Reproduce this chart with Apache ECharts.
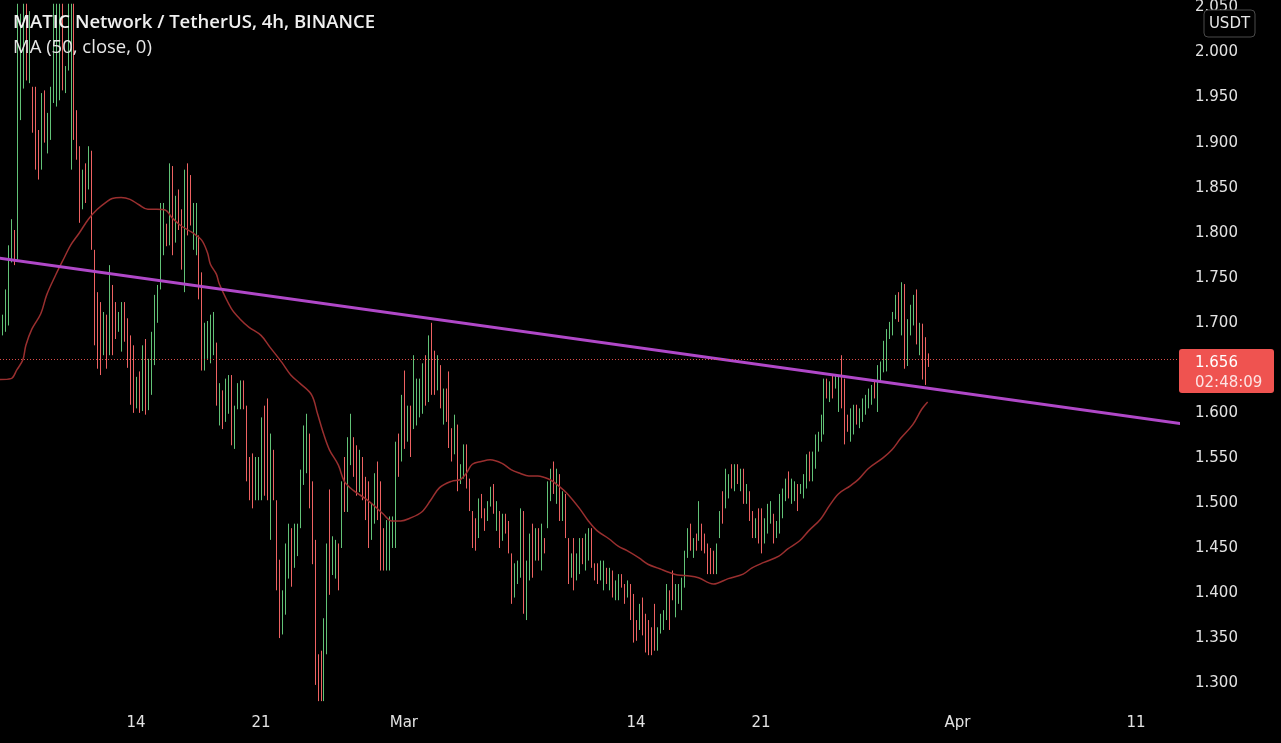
<!DOCTYPE html>
<html><head><meta charset="utf-8">
<style>html,body{margin:0;padding:0;background:#000;}#c{width:1281px;height:743px;}</style>
<script src="https://cdn.jsdelivr.net/npm/echarts@6/dist/echarts.min.js"></script>
</head><body><div id="c"></div>
<script>
const titleText = 'MATIC Network / TetherUS, 4h, BINANCE';
const maText = 'MA (50, close, 0)';
const currencyText = 'USDT';
const firstBarTime = Date.UTC(2022, 1, 6, 8);
const barMs = 4 * 3600 * 1000;
// [open, high, low, close] per 4h bar
const bars = [
[1.725,1.737,1.668,1.680],[1.688,1.709,1.686,1.704],[1.698,1.737,1.690,1.730],[1.712,1.786,1.697,1.772],
[1.772,1.815,1.767,1.805],[1.800,1.803,1.764,1.772],[1.775,2.060,1.770,1.990],[1.945,2.043,1.925,2.030],
[1.975,2.070,1.960,2.050],[2.050,2.070,1.969,1.985],[1.975,2.046,1.966,2.030],[1.958,1.962,1.911,1.920],
[1.950,1.962,1.870,1.885],[1.905,1.914,1.859,1.868],[1.878,1.955,1.870,1.940],[1.950,1.958,1.900,1.910],
[1.895,1.933,1.888,1.925],[1.910,1.962,1.903,1.955],[1.950,2.060,1.944,2.040],[1.950,2.070,1.940,2.050],
[1.960,2.080,1.947,2.060],[2.050,2.070,1.958,1.968],[1.960,1.985,1.955,1.980],[1.985,2.060,1.980,2.045],
[1.890,2.070,1.870,2.040],[2.040,2.060,1.903,1.915],[1.925,1.936,1.881,1.890],[1.888,1.896,1.811,1.820],
[1.830,1.870,1.826,1.862],[1.870,1.877,1.833,1.840],[1.852,1.896,1.848,1.888],[1.885,1.891,1.781,1.790],
[1.778,1.781,1.675,1.690],[1.720,1.734,1.649,1.660],[1.715,1.723,1.642,1.655],[1.668,1.712,1.664,1.705],
[1.700,1.709,1.649,1.658],[1.670,1.764,1.664,1.750],[1.735,1.742,1.664,1.675],[1.718,1.723,1.682,1.688],
[1.692,1.712,1.690,1.708],[1.675,1.723,1.668,1.715],[1.718,1.723,1.679,1.685],[1.695,1.705,1.650,1.660],
[1.678,1.686,1.609,1.618],[1.662,1.675,1.600,1.610],[1.612,1.640,1.605,1.632],[1.640,1.646,1.600,1.606],
[1.608,1.675,1.602,1.665],[1.672,1.682,1.598,1.605],[1.608,1.660,1.603,1.652],[1.648,1.690,1.620,1.684],
[1.680,1.731,1.653,1.725],[1.720,1.742,1.700,1.738],[1.740,1.833,1.737,1.815],[1.805,1.833,1.775,1.825],
[1.808,1.810,1.785,1.790],[1.790,1.877,1.786,1.860],[1.860,1.874,1.775,1.790],[1.792,1.841,1.789,1.835],
[1.838,1.848,1.803,1.810],[1.815,1.826,1.759,1.768],[1.765,1.870,1.734,1.858],[1.860,1.877,1.797,1.805],
[1.852,1.864,1.808,1.815],[1.790,1.833,1.781,1.828],[1.790,1.833,1.775,1.826],[1.792,1.797,1.726,1.735],
[1.742,1.756,1.647,1.660],[1.655,1.700,1.647,1.690],[1.668,1.702,1.660,1.698],[1.662,1.709,1.655,1.700],
[1.672,1.712,1.664,1.708],[1.670,1.678,1.608,1.615],[1.592,1.633,1.586,1.625],[1.620,1.625,1.582,1.590],
[1.595,1.638,1.590,1.632],[1.605,1.642,1.599,1.638],[1.635,1.642,1.564,1.572],[1.568,1.608,1.560,1.602],
[1.608,1.633,1.604,1.628],[1.610,1.636,1.604,1.630],[1.630,1.636,1.604,1.610],[1.600,1.608,1.524,1.532],
[1.545,1.551,1.503,1.510],[1.548,1.555,1.494,1.502],[1.508,1.551,1.503,1.545],[1.510,1.551,1.503,1.546],
[1.510,1.595,1.503,1.588],[1.598,1.608,1.508,1.515],[1.605,1.616,1.503,1.512],[1.470,1.577,1.459,1.565],
[1.552,1.559,1.503,1.510],[1.498,1.503,1.403,1.412],[1.430,1.437,1.350,1.358],[1.360,1.403,1.354,1.398],
[1.385,1.455,1.376,1.448],[1.422,1.477,1.416,1.470],[1.465,1.472,1.407,1.415],[1.432,1.477,1.428,1.470],
[1.445,1.477,1.441,1.472],[1.475,1.537,1.472,1.530],[1.525,1.586,1.520,1.578],[1.540,1.599,1.533,1.592],
[1.570,1.577,1.494,1.500],[1.515,1.524,1.432,1.440],[1.450,1.459,1.298,1.310],[1.325,1.332,1.280,1.290],
[1.330,1.336,1.280,1.288],[1.285,1.372,1.280,1.365],[1.340,1.455,1.332,1.445],[1.505,1.515,1.398,1.405],
[1.425,1.463,1.420,1.458],[1.420,1.459,1.416,1.452],[1.450,1.455,1.403,1.410],[1.455,1.524,1.450,1.518],
[1.545,1.551,1.490,1.495],[1.495,1.573,1.490,1.565],[1.548,1.599,1.542,1.592],[1.568,1.573,1.529,1.535],
[1.558,1.564,1.508,1.515],[1.518,1.559,1.512,1.552],[1.545,1.551,1.503,1.508],[1.522,1.529,1.481,1.488],
[1.515,1.524,1.450,1.458],[1.462,1.499,1.459,1.492],[1.482,1.533,1.477,1.528],[1.538,1.546,1.481,1.488],
[1.515,1.524,1.425,1.432],[1.466,1.472,1.425,1.430],[1.430,1.481,1.425,1.475],[1.432,1.485,1.425,1.478],
[1.455,1.485,1.450,1.480],[1.455,1.568,1.450,1.560],[1.570,1.577,1.529,1.535],[1.552,1.620,1.546,1.612],
[1.638,1.647,1.560,1.568],[1.572,1.608,1.568,1.602],[1.600,1.608,1.551,1.558],[1.588,1.664,1.582,1.655],
[1.592,1.638,1.586,1.632],[1.600,1.638,1.595,1.634],[1.605,1.655,1.599,1.650],[1.658,1.664,1.608,1.615],
[1.618,1.686,1.612,1.680],[1.690,1.700,1.620,1.628],[1.662,1.669,1.620,1.626],[1.630,1.664,1.625,1.658],
[1.648,1.653,1.605,1.612],[1.592,1.627,1.587,1.622],[1.622,1.627,1.590,1.595],[1.638,1.646,1.561,1.568],
[1.578,1.583,1.546,1.552],[1.558,1.598,1.554,1.592],[1.580,1.587,1.513,1.520],[1.524,1.543,1.521,1.540],
[1.530,1.565,1.527,1.560],[1.560,1.565,1.516,1.522],[1.522,1.527,1.491,1.496],[1.488,1.491,1.450,1.455],
[1.478,1.483,1.447,1.452],[1.465,1.505,1.461,1.500],[1.506,1.510,1.483,1.488],[1.490,1.494,1.469,1.474],
[1.482,1.502,1.480,1.498],[1.498,1.518,1.496,1.514],[1.516,1.521,1.488,1.492],[1.472,1.502,1.469,1.498],
[1.486,1.491,1.450,1.455],[1.460,1.488,1.458,1.484],[1.484,1.488,1.466,1.470],[1.475,1.480,1.444,1.448],
[1.440,1.444,1.388,1.394],[1.398,1.433,1.395,1.428],[1.414,1.436,1.410,1.432],[1.422,1.494,1.417,1.488],
[1.485,1.491,1.377,1.385],[1.376,1.436,1.370,1.430],[1.420,1.466,1.414,1.460],[1.470,1.477,1.417,1.424],
[1.440,1.472,1.436,1.466],[1.468,1.472,1.436,1.440],[1.430,1.477,1.425,1.470],[1.458,1.461,1.444,1.448],
[1.476,1.524,1.472,1.518],[1.506,1.538,1.502,1.534],[1.540,1.546,1.510,1.515],[1.504,1.538,1.499,1.532],
[1.526,1.532,1.480,1.486],[1.484,1.513,1.480,1.508],[1.504,1.510,1.461,1.466],[1.455,1.461,1.410,1.416],
[1.420,1.444,1.417,1.440],[1.455,1.461,1.403,1.408],[1.418,1.444,1.414,1.440],[1.425,1.461,1.421,1.456],
[1.456,1.461,1.432,1.436],[1.430,1.466,1.425,1.460],[1.440,1.472,1.436,1.468],[1.466,1.472,1.428,1.432],
[1.430,1.433,1.414,1.417],[1.428,1.433,1.410,1.414],[1.417,1.436,1.414,1.432],[1.407,1.436,1.403,1.432],
[1.425,1.428,1.410,1.413],[1.406,1.428,1.403,1.424],[1.420,1.425,1.395,1.398],[1.395,1.414,1.392,1.410],
[1.396,1.421,1.392,1.417],[1.418,1.421,1.406,1.409],[1.407,1.410,1.388,1.391],[1.398,1.414,1.395,1.411],
[1.406,1.410,1.370,1.374],[1.392,1.399,1.345,1.350],[1.366,1.370,1.347,1.350],[1.362,1.388,1.359,1.384],
[1.390,1.395,1.353,1.357],[1.372,1.377,1.334,1.338],[1.365,1.370,1.331,1.335],[1.358,1.362,1.331,1.335],
[1.382,1.388,1.336,1.340],[1.339,1.362,1.336,1.358],[1.358,1.377,1.355,1.373],[1.362,1.381,1.359,1.377],
[1.374,1.410,1.370,1.405],[1.398,1.403,1.359,1.363],[1.420,1.425,1.392,1.396],[1.377,1.410,1.373,1.405],
[1.391,1.410,1.388,1.406],[1.385,1.417,1.381,1.413],[1.410,1.447,1.406,1.442],[1.443,1.472,1.439,1.468],
[1.472,1.477,1.447,1.451],[1.442,1.461,1.439,1.457],[1.462,1.466,1.447,1.450],[1.462,1.502,1.458,1.496],
[1.472,1.477,1.447,1.451],[1.462,1.466,1.444,1.448],[1.450,1.455,1.421,1.425],[1.446,1.450,1.421,1.425],
[1.443,1.447,1.421,1.424],[1.425,1.455,1.421,1.450],[1.465,1.491,1.461,1.487],[1.508,1.513,1.477,1.481],
[1.498,1.538,1.494,1.532],[1.508,1.532,1.505,1.528],[1.538,1.543,1.516,1.520],[1.517,1.543,1.513,1.538],
[1.540,1.543,1.521,1.524],[1.516,1.538,1.513,1.534],[1.533,1.538,1.499,1.503],[1.502,1.521,1.499,1.517],
[1.508,1.513,1.480,1.484],[1.486,1.491,1.461,1.465],[1.464,1.483,1.461,1.479],[1.488,1.494,1.455,1.459],
[1.488,1.494,1.444,1.448],[1.458,1.483,1.455,1.479],[1.470,1.499,1.466,1.495],[1.480,1.502,1.477,1.498],
[1.484,1.488,1.455,1.459],[1.464,1.480,1.461,1.476],[1.470,1.510,1.466,1.505],[1.487,1.516,1.483,1.512],
[1.505,1.527,1.502,1.523],[1.530,1.535,1.505,1.509],[1.503,1.527,1.499,1.523],[1.505,1.524,1.502,1.520],
[1.516,1.521,1.491,1.495],[1.512,1.521,1.510,1.519],[1.508,1.532,1.505,1.528],[1.520,1.554,1.516,1.550],
[1.552,1.557,1.524,1.528],[1.528,1.557,1.524,1.553],[1.542,1.576,1.538,1.572],[1.560,1.579,1.557,1.575],
[1.571,1.598,1.568,1.594],[1.582,1.638,1.576,1.632],[1.634,1.638,1.616,1.619],[1.615,1.635,1.612,1.631],
[1.638,1.642,1.616,1.620],[1.629,1.642,1.627,1.639],[1.606,1.642,1.601,1.637],[1.640,1.664,1.605,1.612],
[1.630,1.638,1.565,1.572],[1.595,1.598,1.579,1.582],[1.572,1.605,1.568,1.600],[1.580,1.609,1.576,1.605],
[1.605,1.609,1.587,1.590],[1.586,1.605,1.583,1.602],[1.593,1.616,1.590,1.612],[1.601,1.620,1.598,1.617],
[1.608,1.627,1.605,1.624],[1.612,1.631,1.609,1.628],[1.632,1.635,1.616,1.619],[1.606,1.653,1.601,1.648],
[1.638,1.657,1.635,1.654],[1.648,1.680,1.645,1.676],[1.650,1.693,1.646,1.688],[1.685,1.701,1.682,1.698],
[1.690,1.712,1.686,1.708],[1.707,1.731,1.704,1.727],[1.730,1.734,1.701,1.705],[1.692,1.745,1.686,1.740],
[1.738,1.743,1.649,1.655],[1.657,1.704,1.652,1.698],[1.690,1.720,1.686,1.716],[1.700,1.731,1.697,1.727],
[1.730,1.737,1.676,1.680],[1.668,1.700,1.664,1.696],[1.694,1.699,1.637,1.642],[1.676,1.684,1.631,1.635],
[1.662,1.666,1.651,1.656]
];
// MA(50): [bar index, value]
const maPoints = [
[0,1.637],[4,1.638],[6,1.648],[8,1.659],[9,1.675],[11,1.693],[14,1.710],[16,1.731],[19,1.753],[22,1.773],
[24,1.786],[27,1.800],[30,1.815],[33,1.826],[36,1.834],[38,1.838],[41,1.839],[44,1.837],[47,1.831],[50,1.826],
[53,1.826],[56,1.825],[58,1.817],[61,1.808],[65,1.800],[68,1.792],[70,1.778],[71,1.765],[73,1.754],[74,1.743],
[78,1.716],[81,1.704],[84,1.695],[88,1.686],[91,1.673],[95,1.656],[98,1.642],[101,1.633],[105,1.620],[107,1.599],
[109,1.577],[111,1.559],[114,1.542],[116,1.524],[119,1.514],[123,1.505],[126,1.497],[129,1.488],[132,1.480],[135,1.480],
[138,1.483],[142,1.490],[145,1.503],[148,1.517],[152,1.524],[155,1.526],[157,1.533],[159,1.543],[162,1.546],[165,1.548],
[169,1.544],[172,1.537],[175,1.533],[178,1.530],[181,1.530],[185,1.526],[188,1.519],[191,1.510],[195,1.494],[198,1.480],
[201,1.469],[205,1.460],[208,1.452],[211,1.447],[215,1.439],[218,1.432],[222,1.427],[225,1.423],[228,1.420],[232,1.419],
[235,1.417],[240,1.410],[245,1.416],[250,1.421],[253,1.428],[257,1.434],[262,1.441],[265,1.449],[269,1.458],[272,1.469],
[276,1.482],[279,1.497],[282,1.510],[286,1.519],[289,1.527],[292,1.538],[297,1.550],[300,1.559],[303,1.572],[307,1.587],
[310,1.604],[312,1.612]
];
// trend line end points: [bar index, value]
const trendPoints = [[-4, 1.7736], [406, 1.5840]];
const lastPrice = 1.656;
const countdownText = '02:48:09';
const priceTicks = [1.30,1.35,1.40,1.45,1.50,1.55,1.60,1.70,1.75,1.80,1.85,1.90,1.95,2.00,2.05];
const dateTicks = ['2022-02-14','2022-02-21','2022-03-01','2022-03-14','2022-03-21','2022-04-01','2022-04-11'];
const dateLabels = ['14','21','Mar','14','21','Apr','11'];

const UP = '#62c277', DOWN = '#ee6262';
const tOf = i => firstBarTime + i * barMs;
const barData = bars.map((b, i) => [tOf(i), b[0], b[1], b[2], b[3]]);
const maData = maPoints.map(p => [tOf(p[0]), p[1]]);
const trendData = trendPoints.map(p => [tOf(p[0]), p[1]]);
const dateTickMs = dateTicks.map(d => Date.parse(d + 'T00:00:00Z'));

const chart = echarts.init(document.getElementById('c'), null, {renderer: 'canvas'});
const axisFont = {color: '#e2e2e2', fontSize: 15, fontFamily: 'DejaVu Sans'};
chart.setOption({
  backgroundColor: '#000000',
  animation: false,
  title: [
    {text: titleText, left: 13, top: 13, padding: 0, textStyle: {color: '#f0f0f0', fontSize: 18.5, fontWeight: 600, fontFamily: 'Open Sans'}},
    {text: maText, left: 13, top: 38, padding: 0, textStyle: {color: '#e6e6e6', fontSize: 18.5, fontWeight: 'normal', fontFamily: 'Open Sans'}}
  ],
  grid: {left: 0, right: 103, top: 0, bottom: 37, containLabel: false},
  xAxis: {
    type: 'value',
    min: Date.UTC(2022, 1, 6, 9, 13),
    max: Date.UTC(2022, 3, 13, 8, 27),
    splitLine: {show: false}, axisLine: {show: false}, axisTick: {show: false},
    axisLabel: Object.assign({
      margin: 10,
      customValues: dateTickMs,
      formatter: v => { const i = dateTickMs.indexOf(v); return i >= 0 ? dateLabels[i] : ''; }
    }, axisFont)
  },
  yAxis: {
    type: 'value', position: 'right',
    min: 1.2746, max: 2.0541, scale: true,
    splitLine: {show: false}, axisLine: {show: false}, axisTick: {show: false},
    axisLabel: Object.assign({
      margin: 17,
      customValues: priceTicks,
      formatter: v => v.toFixed(3)
    }, axisFont)
  },
  series: [
    {
      type: 'custom', name: 'bars', data: barData, clip: true,
      encode: {x: 0, y: [1, 2, 3, 4]},
      renderItem: (params, api) => {
        const t = api.value(0), o = api.value(1), h = api.value(2), l = api.value(3), c = api.value(4);
        const p1 = api.coord([t, h]), p2 = api.coord([t, l]);
        const x = Math.round(p1[0]) + 0.5;
        let y1 = p1[1], y2 = p2[1];
        if (y2 - y1 < 1) y2 = y1 + 1;
        return {type: 'line', shape: {x1: x, y1: y1, x2: x, y2: y2}, style: {stroke: c >= o ? UP : DOWN, lineWidth: 1}};
      },
      markLine: {
        silent: true, symbol: 'none', animation: false,
        label: {show: false},
        lineStyle: {color: '#ef5350', width: 1, type: [1, 2], opacity: 0.9},
        data: [{yAxis: lastPrice}]
      },
      z: 2
    },
    {
      type: 'line', name: 'MA', data: maData, showSymbol: false, smooth: 0.35, clip: true,
      lineStyle: {color: '#9a2f2f', width: 1.5}, z: 3
    },
    {
      type: 'line', name: 'trend', data: trendData, showSymbol: false, clip: true,
      lineStyle: {color: '#b048c8', width: 3}, z: 4
    }
  ]
});

const py = chart.convertToPixel({yAxisIndex: 0}, lastPrice);
chart.setOption({
  graphic: [
    {type: 'rect', shape: {x: 1204, y: 10, width: 51, height: 27, r: 4}, style: {fill: '#000', stroke: '#4a4a4a', lineWidth: 1}, z: 10},
    {type: 'text', x: 1229.5, y: 24, style: {text: currencyText, fill: '#e6e6e6', font: '15px "DejaVu Sans"', align: 'center', verticalAlign: 'middle'}, z: 11},
    {type: 'rect', shape: {x: 1179, y: py - 13.5, width: 95, height: 44, r: 3}, style: {fill: '#ef5350'}, z: 10},
    {type: 'text', x: 1195, y: py + 1, style: {text: lastPrice.toFixed(3), fill: '#ffffff', font: '15px "DejaVu Sans"', align: 'left', verticalAlign: 'middle'}, z: 11},
    {type: 'text', x: 1195, y: py + 20.5, style: {text: countdownText, fill: '#fde3e3', font: '15px "DejaVu Sans"', align: 'left', verticalAlign: 'middle'}, z: 11}
  ]
});
</script>
</body></html>
